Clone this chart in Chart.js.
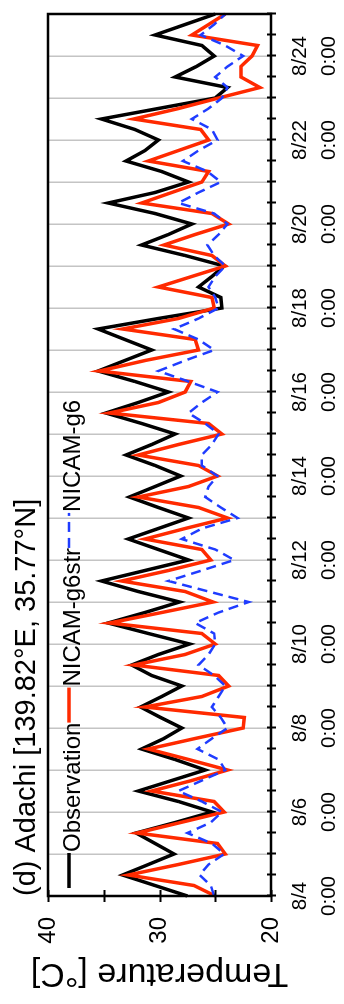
<!DOCTYPE html>
<html>
<head>
<meta charset="utf-8">
<title>Adachi temperature</title>
<script src="https://cdn.jsdelivr.net/npm/chart.js@4.4.0/dist/chart.umd.min.js"></script>
<style>
  html, body { margin: 0; padding: 0; background: #fff; overflow: hidden; }
  /* chart is laid out landscape, then turned on its side */
  #wrap {
    position: absolute; left: 0; top: 0;
    width: 1004px; height: 344px;
    transform-origin: 0 0;
    transform: translateY(1004px) rotate(-90deg);
  }
</style>
</head>
<body>
<div id="wrap"><canvas id="tempChart" width="1004" height="344"></canvas></div>
<script>
// 6-hourly samples, 8/4 0:00 .. 8/25 0:00
const days = ['8/4','8/5','8/6','8/7','8/8','8/9','8/10','8/11','8/12','8/13','8/14',
              '8/15','8/16','8/17','8/18','8/19','8/20','8/21','8/22','8/23','8/24','8/25'];
const hours = ['0:00','6:00','12:00','18:00'];
const tempLabels = [40, 30, 20];

const observation = [
  27.5,30.4,33.3,31.0, 28.7,30.4,32.1,28.6, 25.3,28.3,31.9,28.9, 25.9,28.6,31.6,29.6,
  28.0,29.9,31.7,29.8, 28.0,30.7,32.5,30.1, 27.3,31.0,34.6,31.3, 28.2,31.9,35.2,31.3,
  27.4,30.1,32.8,30.1, 27.4,30.1,32.7,30.4, 28.1,30.4,33.0,30.7, 28.6,31.6,34.8,31.9,
  29.2,32.2,35.5,33.1, 30.7,33.1,35.5,30.1, 24.4,24.5,26.5,25.3, 24.2,27.7,31.6,29.2,
  27.1,30.4,34.6,30.4, 27.4,29.8,33.0,31.3, 30.1,32.2,35.2,30.1, 25.0,23.9,28.6,26.7,
  25.1,26.2,30.4,27.7, 25.0
];
const nicamG6str = [
  25.0,26.9,32.8,28.3, 24.1,24.8,32.0,28.1, 24.2,25.1,30.7,27.1, 23.9,27.4,31.0,26.8,
  22.5,22.4,31.3,26.2, 23.8,24.7,32.3,27.7, 25.0,26.2,34.5,29.8, 25.2,27.7,33.4,29.2,
  25.4,26.2,31.3,27.7, 23.9,26.5,31.9,27.4, 24.8,26.5,31.9,28.3, 24.4,25.6,34.5,30.1,
  27.7,27.2,35.4,31.3, 26.5,26.8,33.3,28.3, 25.1,25.3,30.1,27.1, 24.1,25.3,29.6,26.8,
  23.8,25.3,31.6,28.9, 26.2,25.6,31.0,28.3, 25.6,26.3,32.3,28.3, 24.7,21.0,22.7,22.7,
  21.7,21.2,27.1,25.6, 24.1
];
const nicamG6 = [
  25.1,25.4,26.4,25.6, 24.2,25.3,27.5,25.4, 24.4,26.2,28.3,26.2, 24.1,24.7,26.6,25.3,
  23.9,24.5,25.3,24.7, 24.1,25.1,26.5,25.6, 25.0,25.1,26.8,24.7, 22.0,25.6,29.2,26.2,
  23.3,25.0,28.0,26.2, 23.0,24.5,25.9,25.6, 24.8,26.2,26.2,25.3, 24.7,25.9,27.4,26.2,
  24.8,27.4,30.1,27.7, 25.1,26.5,28.7,26.5, 24.7,25.0,25.6,25.0, 24.1,25.1,25.7,24.7,
  23.9,25.1,28.3,26.5, 24.5,25.7,27.9,26.5, 24.8,25.3,27.1,25.6, 24.4,23.9,25.0,23.9,
  22.5,24.1,26.3,25.1, 24.1
];

const labels = [];
days.forEach(d => hours.forEach(h => labels.push(d + ' ' + h)));
labels.length = observation.length;

const FONT = '"Liberation Sans", Arial, Helvetica, sans-serif';
Chart.defaults.font.family = FONT;
Chart.defaults.color = '#000';

// box round the plot plus tick marks that cross the axes
const frame = {
  id: 'frame',
  afterDatasetsDraw(chart) {
    const { ctx, chartArea: a, scales: { x, y } } = chart;
    ctx.save();
    ctx.strokeStyle = '#000';
    ctx.lineWidth = 2.5;
    ctx.strokeRect(a.left, a.top, a.right - a.left, a.bottom - a.top);
    ctx.lineWidth = 2;
    ctx.beginPath();
    for (let i = 0; i < labels.length; i += 2) {
      const px = Math.round(x.getPixelForValue(i)) + 0.5;
      ctx.moveTo(px, a.bottom - 4);
      ctx.lineTo(px, a.bottom + 5);
    }
    for (let v = y.min; v <= y.max; v += 5) {
      const py = Math.round(y.getPixelForValue(v)) + 0.5;
      ctx.moveTo(a.left - 6, py);
      ctx.lineTo(a.left + 6, py);
    }
    ctx.stroke();
    ctx.restore();
  }
};

// inline legend: line sample followed directly by its name
const lineKey = {
  id: 'lineKey',
  afterDraw(chart) {
    const { ctx, chartArea: a } = chart;
    const segY = a.top + 21, textY = a.top + 32;
    let x = a.left + 8;
    ctx.save();
    ctx.font = '24px ' + FONT;
    ctx.textBaseline = 'alphabetic';
    ctx.fillStyle = '#000';
    chart.data.datasets.forEach(ds => {
      ctx.strokeStyle = ds.borderColor;
      ctx.lineWidth = ds.borderWidth;
      ctx.setLineDash(ds.borderDash || []);
      ctx.beginPath();
      ctx.moveTo(x, segY);
      ctx.lineTo(x + 35, segY);
      ctx.stroke();
      x += 36;
      ctx.fillText(ds.label, x, textY);
      x += ctx.measureText(ds.label).width;
    });
    ctx.restore();
  }
};

new Chart(document.getElementById('tempChart'), {
  type: 'line',
  data: {
    labels: labels,
    datasets: [
      { label: 'Observation', data: observation, borderColor: '#000000', borderWidth: 3.5, order: 3 },
      { label: 'NICAM-g6str', data: nicamG6str, borderColor: '#ff2a00', borderWidth: 3.5, order: 2 },
      { label: 'NICAM-g6', data: nicamG6, borderColor: '#1f3cff', borderWidth: 2.5, borderDash: [10, 6], order: 1 }
    ]
  },
  options: {
    responsive: false,
    animation: false,
    elements: {
      point: { radius: 0 },
      line: { tension: 0, fill: false }
    },
    layout: { padding: { left: 0, right: 10, top: 0, bottom: 0 } },
    plugins: {
      legend: { display: false },
      tooltip: { enabled: false },
      title: {
        display: true,
        fullSize: false,
        align: 'start',
        text: '(d) Adachi [139.82°E, 35.77°N]',
        color: '#000',
        font: { size: 29, weight: 'normal', lineHeight: 1 },
        padding: { top: 12, bottom: 7 }
      }
    },
    scales: {
      x: {
        type: 'category',
        offset: false,
        border: { display: false },
        grid: {
          drawTicks: false,
          lineWidth: 1.5,
          color: c => (c.index % 4 === 0 ? '#c4c4c4' : 'rgba(0,0,0,0)')
        },
        ticks: {
          autoSkip: false,
          maxRotation: 0,
          minRotation: 0,
          padding: 14,
          font: { size: 20.5, lineHeight: 1.45 },
          callback: function (v, i) {
            return i % 8 === 0 ? this.getLabelForValue(v).split(' ') : '';
          }
        },
        afterFit: s => { s.height = 73; }
      },
      y: {
        min: 20,
        max: 40,
        border: { display: false },
        grid: { display: false, drawTicks: false },
        ticks: {
          stepSize: 5,
          padding: 21,
          font: { size: 24 },
          callback: v => (tempLabels.includes(v) ? String(v) : '')
        },
        title: {
          display: true,
          text: 'Temperature [°C]',
          font: { size: 34, lineHeight: 1 },
          padding: { top: 14, bottom: 0 }
        },
        afterFit: s => { s.width = 108; }
      }
    }
  },
  plugins: [frame, lineKey]
});
</script>
</body>
</html>
